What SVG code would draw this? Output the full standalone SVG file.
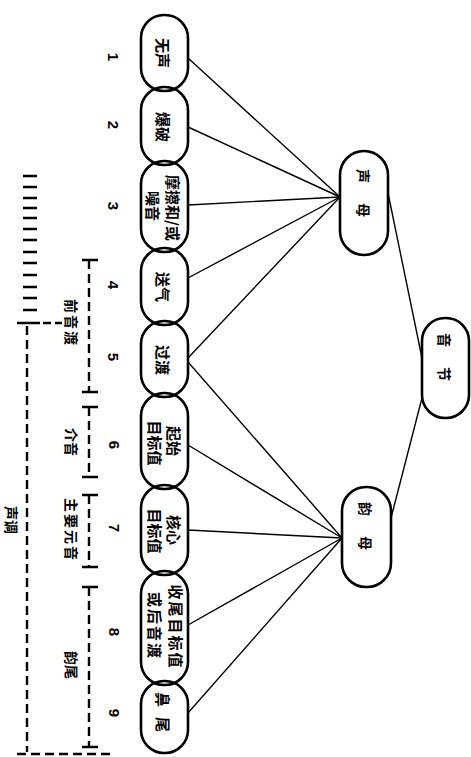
<svg xmlns="http://www.w3.org/2000/svg" width="471" height="757" viewBox="0 0 471 757">
<style>
.nd{fill:none;stroke:#000;stroke-width:2.6}
.cn{stroke:#000;stroke-width:1.4;fill:none}
.t{font-family:"Noto Sans CJK SC","Noto Sans CJK TC",sans-serif;font-size:15px;font-weight:700;fill:#000;text-anchor:middle;dominant-baseline:central}
.s{font-size:14px}
.num{font-family:"Liberation Sans",sans-serif;font-size:15px;font-weight:700;fill:#000;text-anchor:middle;dominant-baseline:central}
.br{stroke:#000;stroke-width:2.4;fill:none}
.dash{stroke:#000;stroke-width:2.4;fill:none;stroke-dasharray:9 5}
</style>
<rect width="471" height="757" fill="#fff"/>
<g id="connectors">
<line class="cn" x1="340" y1="197" x2="188" y2="58"/>
<line class="cn" x1="340" y1="197" x2="188" y2="127"/>
<line class="cn" x1="340" y1="197" x2="188" y2="205"/>
<line class="cn" x1="340" y1="197" x2="188" y2="278"/>
<line class="cn" x1="340" y1="197" x2="188" y2="358"/>
<line class="cn" x1="342" y1="538" x2="188" y2="362"/>
<line class="cn" x1="342" y1="538" x2="188" y2="445"/>
<line class="cn" x1="342" y1="538" x2="188" y2="530"/>
<line class="cn" x1="342" y1="538" x2="188" y2="625"/>
<line class="cn" x1="342" y1="538" x2="188" y2="713"/>
<line class="cn" x1="388" y1="193" x2="422" y2="358"/>
<line class="cn" x1="422" y1="398" x2="391" y2="518"/>
</g>
<g id="n1"><rect class="nd" x="141" y="15" width="47" height="76" rx="23"/><text class="t" transform="translate(163,53) rotate(90)">无声</text></g>
<g id="n2"><rect class="nd" x="141" y="87" width="47" height="78" rx="23"/><text class="t" transform="translate(163,127) rotate(90)">爆破</text></g>
<g id="n3"><rect class="nd" x="141" y="161" width="47" height="91" rx="23"/><text class="t" transform="translate(173,208) rotate(90)">摩擦和/或</text><text class="t" transform="translate(153,206) rotate(90)">噪音</text></g>
<g id="n4"><rect class="nd" x="141" y="248" width="47" height="77" rx="23"/><text class="t" transform="translate(163,287) rotate(90)">送气</text></g>
<g id="n5"><rect class="nd" x="141" y="321" width="47" height="76" rx="23"/><text class="t" transform="translate(163,360) rotate(90)">过渡</text></g>
<g id="n6"><rect class="nd" x="141" y="393" width="47" height="96" rx="23"/><text class="t" transform="translate(174,441) rotate(90)">起始</text><text class="t" transform="translate(155,443) rotate(90)">目标值</text></g>
<g id="n7"><rect class="nd" x="141" y="485" width="47" height="90" rx="23"/><text class="t" transform="translate(174,530) rotate(90)">核心</text><text class="t" transform="translate(155,531) rotate(90)">目标值</text></g>
<g id="n8"><rect class="nd" x="141" y="571" width="47" height="114" rx="23"/><text class="t" transform="translate(176,627) rotate(90)" letter-spacing="2">收尾目标值</text><text class="t" transform="translate(155,626) rotate(90)" letter-spacing="2">或后音渡</text></g>
<g id="n9"><rect class="nd" x="141" y="681" width="47" height="72" rx="23"/><text class="t" transform="translate(163,717) rotate(90)" letter-spacing="10">鼻尾</text></g>
<g id="shengmu"><rect class="nd" x="340" y="151" width="48" height="104" rx="24"/><text class="t s" transform="translate(364,203) rotate(90)" letter-spacing="20">声母</text></g>
<g id="yunmu"><rect class="nd" x="342" y="487" width="49" height="100" rx="24"/><text class="t s" transform="translate(366,536) rotate(90)" letter-spacing="20">韵母</text></g>
<g id="yinjie"><rect class="nd" x="422" y="318" width="47" height="100" rx="23"/><text class="t s" transform="translate(445,367) rotate(90)" letter-spacing="20">音节</text></g>
<g id="numbers">
<text class="num" transform="translate(113,57) rotate(90)">1</text>
<text class="num" transform="translate(113,125) rotate(90)">2</text>
<text class="num" transform="translate(113,206) rotate(90)">3</text>
<text class="num" transform="translate(113,285) rotate(90)">4</text>
<text class="num" transform="translate(113,357) rotate(90)">5</text>
<text class="num" transform="translate(114,445) rotate(90)">6</text>
<text class="num" transform="translate(114,528) rotate(90)">7</text>
<text class="num" transform="translate(114,632) rotate(90)">8</text>
<text class="num" transform="translate(114,713) rotate(90)">9</text>
</g>
<g id="bracket-tone">
<path class="br" d="M23 176H37M23 187H37M23 198H37M23 208H37M23 218H37M23 229H37M23 240H37M23 252H37M23 263H37M23 275H37M23 287H37M23 298H37M23 310H37"/>
<path class="br" d="M17 323H40M43 323H51M55 323H62"/>
<line class="dash" x1="27" y1="326" x2="27" y2="752"/>
<line class="dash" x1="17" y1="754" x2="112" y2="754"/>
<text class="t s" transform="translate(12,520) rotate(90)">声调</text>
</g>
<g id="bracket-parts">
<path class="br" d="M82 260H98M82 392H98M82 407H98M82 477H98M82 495H98M82 567H98M82 587H98M82 747H98"/>
<line class="dash" x1="89" y1="260" x2="89" y2="392"/>
<line class="dash" x1="89" y1="407" x2="89" y2="477"/>
<line class="dash" x1="89" y1="495" x2="89" y2="567"/>
<line class="dash" x1="89" y1="587" x2="89" y2="747"/>
<text class="t s" transform="translate(72,323) rotate(90)" letter-spacing="2">前音渡</text>
<text class="t s" transform="translate(72,442) rotate(90)">介音</text>
<text class="t s" transform="translate(72,530) rotate(90)" letter-spacing="2">主要元音</text>
<text class="t s" transform="translate(72,665) rotate(90)">韵尾</text>
</g>
</svg>
